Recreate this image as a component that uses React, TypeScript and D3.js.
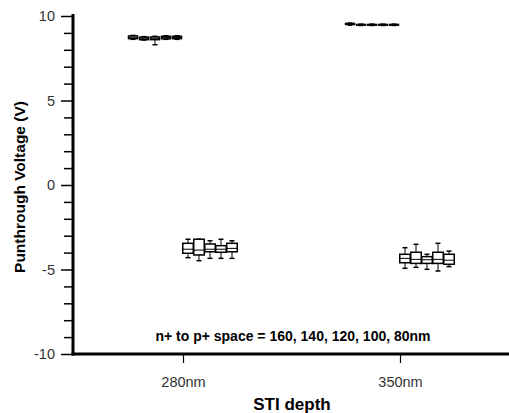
import * as d3 from "d3";
import { useEffect, useRef } from "react";

// STI depth categories and the five n+ to p+ spacings
const categories = ["280nm", "350nm"];
const spacings = ["160", "140", "120", "100", "80"];

// box stats per spacing: [min, q1, median, q3, max] in volts
const upper280 = [
  [8.62, 8.66, 8.74, 8.82, 8.85],
  [8.58, 8.6, 8.68, 8.75, 8.78],
  [8.3, 8.6, 8.68, 8.76, 8.8],
  [8.62, 8.65, 8.72, 8.8, 8.83],
  [8.62, 8.66, 8.73, 8.8, 8.83],
];
const upper350 = [
  [9.46, 9.5, 9.53, 9.56, 9.58],
  [9.44, 9.46, 9.48, 9.5, 9.52],
  [9.44, 9.46, 9.48, 9.5, 9.52],
  [9.44, 9.46, 9.48, 9.5, 9.52],
  [9.44, 9.46, 9.48, 9.5, 9.52],
];
const lower280 = [
  [-4.3, -4.04, -3.8, -3.45, -3.21],
  [-4.48, -4.14, -3.85, -3.21, -3.21],
  [-4.34, -3.95, -3.8, -3.49, -3.3],
  [-4.34, -3.98, -3.8, -3.59, -3.21],
  [-4.34, -3.95, -3.75, -3.45, -3.3],
];
const lower350 = [
  [-4.93, -4.6, -4.34, -4.1, -3.71],
  [-4.87, -4.64, -4.4, -3.98, -3.51],
  [-4.99, -4.64, -4.42, -4.24, -4.1],
  [-5.09, -4.64, -4.4, -3.98, -3.45],
  [-4.83, -4.69, -4.45, -4.1, -3.91],
];

const yMajor = [-10, -5, 0, 5, 10];
const yMinor = d3.range(-10, 11, 1).filter((v) => !yMajor.includes(v));

const W = 509;
const H = 413;
const FONT = "Arial, Liberation Sans, sans-serif";

const App = () => {
  const ref = useRef<SVGSVGElement>(null);

  useEffect(() => {
    const svg = d3.select(ref.current);
    svg.selectAll("*").remove();

    const x = d3.scalePoint().domain(categories).range([183, 400]);
    const y = d3.scaleLinear().domain([-10, 10]).range([354, 16]);
    const step = 11;

    const groups = [
      { cat: "280nm", data: upper280, offset: -50, bw: 9 },
      { cat: "350nm", data: upper350, offset: -50, bw: 9 },
      { cat: "280nm", data: lower280, offset: 5, bw: 10.5 },
      { cat: "350nm", data: lower350, offset: 5, bw: 10.5 },
    ];

    const g = svg.append("g");
    groups.forEach((grp) => {
      const bw = grp.bw;
      grp.data.forEach((d, i) => {
        const cx = (x(grp.cat) as number) + grp.offset + i * step;
        const [mn, q1, md, q3, mx] = d;
        const b = g.append("g").attr("data-spacing", spacings[i]);
        b.append("line")
          .attr("x1", cx).attr("x2", cx)
          .attr("y1", y(mx)).attr("y2", y(mn))
          .attr("stroke", "#000").attr("stroke-width", 1);
        [mn, mx].forEach((v) =>
          b.append("line")
            .attr("x1", cx - 2.5).attr("x2", cx + 2.5)
            .attr("y1", y(v)).attr("y2", y(v))
            .attr("stroke", "#000").attr("stroke-width", 1.5)
        );
        b.append("rect")
          .attr("x", cx - bw / 2).attr("width", bw)
          .attr("y", y(q3)).attr("height", y(q1) - y(q3))
          .attr("fill", "#fff").attr("stroke", "#000").attr("stroke-width", 1.5);
        b.append("line")
          .attr("x1", cx - bw / 2).attr("x2", cx + bw / 2)
          .attr("y1", y(md)).attr("y2", y(md))
          .attr("stroke", "#000").attr("stroke-width", 1);
      });
    });

    // y axis
    const yAxis = svg.append("g").attr("transform", "translate(73,0)");
    yAxis.call(
      d3.axisLeft(y).tickValues(yMajor).tickSize(12).tickSizeOuter(0).tickPadding(6)
        .tickFormat((d) => String(d))
    );
    yAxis.append("g")
      .call(d3.axisLeft(y).tickValues(yMinor).tickSize(9).tickSizeOuter(0).tickFormat(() => ""))
      .select(".domain").remove();
    yAxis.selectAll(".tick line").attr("stroke", "#000").attr("stroke-width", 1.5);
    yAxis.select(".domain").remove();
    yAxis.selectAll(".tick text")
      .attr("font-family", FONT).attr("font-size", 14.5).attr("fill", "#333");
    svg.append("line")
      .attr("x1", 73).attr("x2", 73).attr("y1", 14).attr("y2", 355.5)
      .attr("stroke", "#000").attr("stroke-width", 3);

    // x axis
    const xAxis = svg.append("g").attr("transform", "translate(0,354)");
    xAxis.call(d3.axisBottom(x).tickSize(9).tickSizeOuter(0).tickPadding(14));
    xAxis.select(".domain").remove();
    xAxis.selectAll(".tick line").attr("stroke", "#000").attr("stroke-width", 1.2);
    xAxis.selectAll(".tick text")
      .attr("font-family", FONT).attr("font-size", 14.5).attr("fill", "#333");
    svg.append("line")
      .attr("x1", 71.5).attr("x2", W).attr("y1", 354).attr("y2", 354)
      .attr("stroke", "#000").attr("stroke-width", 3);

    // titles
    svg.append("text")
      .attr("transform", "translate(25,187) rotate(-90)")
      .attr("text-anchor", "middle")
      .attr("font-family", FONT)
      .attr("font-weight", "bold").attr("font-size", 15.5)
      .text("Punthrough Voltage (V)");
    svg.append("text")
      .attr("x", 292).attr("y", 410)
      .attr("text-anchor", "middle")
      .attr("font-family", FONT)
      .attr("font-weight", "bold").attr("font-size", 17)
      .text("STI depth");
    svg.append("text")
      .attr("x", 293).attr("y", 341)
      .attr("text-anchor", "middle")
      .attr("font-family", FONT)
      .attr("font-weight", "bold").attr("font-size", 14)
      .text("n+ to p+ space = " + spacings.join(", ") + "nm");
  }, []);

  return (
    <svg
      ref={ref}
      width={W}
      height={H}
      style={{ position: "absolute", left: 0, top: 0, background: "#fff" }}
    />
  );
};

export default App;
